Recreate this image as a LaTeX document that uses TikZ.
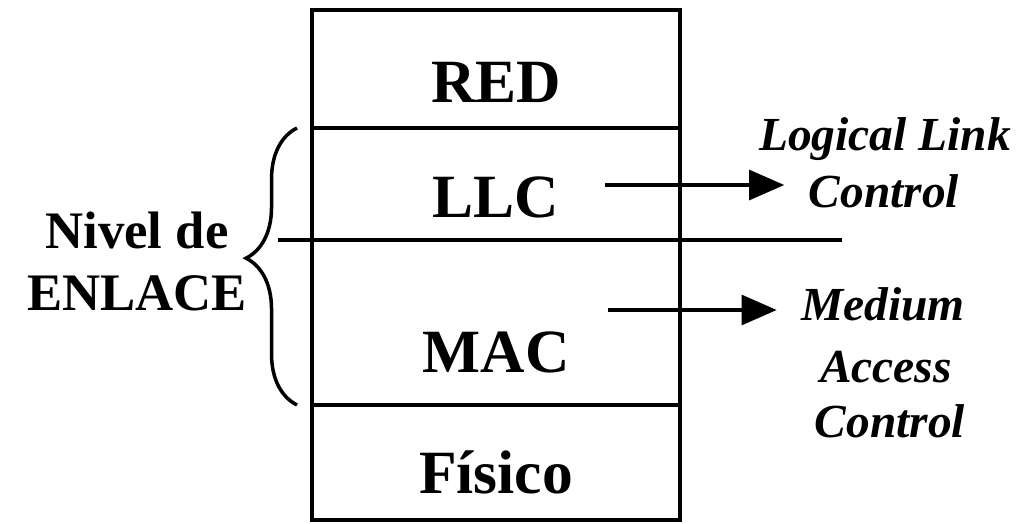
\documentclass[tikz,border=0pt]{standalone}
\usepackage{fontspec}
\setmainfont{Liberation Serif}
\usetikzlibrary{positioning,arrows.meta,decorations.pathreplacing}

\begin{document}
\begin{tikzpicture}[x=0.02cm,y=-0.02cm,line width=2pt,
    every node/.style={inner sep=0pt},
    layer/.style={font=\fontsize{35}{38}\selectfont\bfseries,anchor=base},
    side/.style={font=\fontsize{27}{30}\selectfont\bfseries\itshape,anchor=base},
    nivel/.style={font=\fontsize{30}{33}\selectfont\bfseries,anchor=base}]
  \useasboundingbox (0,0) rectangle (1035,524);
  % pila de niveles
  \draw[line width=2.5pt] (312,10) rectangle (680,520);
  \draw (312,128)--(680,128); \draw (312,405)--(680,405);
  \coordinate (cl) at (278,240); \coordinate (cr) at (842,240);
  \draw (cl)--(cr);
  \node[layer] (red) at (496,102) {RED};
  \node[layer] (llc) at (496,217) {LLC};
  \node[layer] (mac) at (496,372) {MAC};
  \node[layer] (fis) at (496,493) {Físico};
  % llave del nivel de enlace
  \coordinate (bt) at (297,128); \coordinate (bb) at (297,405);
  \draw[line width=2pt,decorate,decoration={brace,amplitude=29pt,aspect=0.53}] (bb)--(bt);
  \node[nivel] (nivel) at (137,248) {Nivel de};
  \node[nivel] (enlace) at (137,310) {ENLACE};
  % subniveles
  \node[side] (ll) at (885,150) {Logical Link};
  \node[side] (ctla) at (884,207) {Control};
  \node[side] (med) at (883,320) {Medium};
  \node[side] (acc) at (886,382) {Access};
  \node[side] (ctlb) at (890,437) {Control};
  \coordinate (a1) at (605,185); \coordinate (a2) at (608,310);
  \draw[-{Triangle[length=20pt,width=17pt]},shorten >=13pt] (a1)--(a1 -| ctla.west);
  \draw[-{Triangle[length=20pt,width=17pt]},shorten >=13pt] (a2)--(a2 -| med.west);
\end{tikzpicture}
\end{document}
